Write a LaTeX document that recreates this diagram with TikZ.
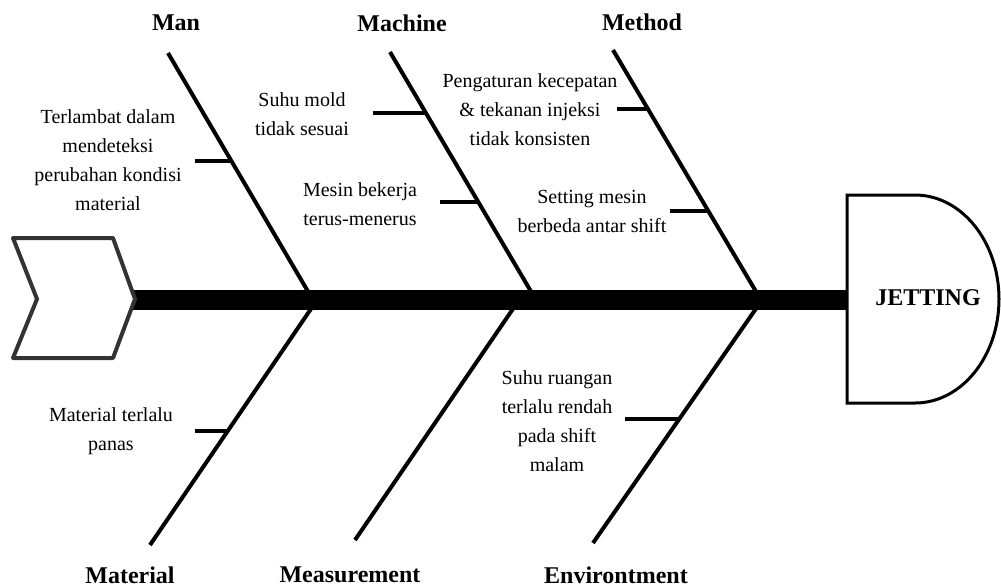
\documentclass[tikz,border=0pt]{standalone}
\usepackage{fontspec}
\setmainfont{Liberation Serif}
\usepackage{tikz}
\usetikzlibrary{positioning}
\usepackage{xcolor}

\begin{document}
\begin{tikzpicture}[x=0.5pt, y=-0.5pt,
    bone/.style={black, line width=2pt},
    cause/.style={align=center, font=\fontsize{10}{14.5}\selectfont},
    category/.style={font=\bfseries\fontsize{12}{14}\selectfont}]
    \useasboundingbox (0,0) rectangle (1001,586);
    % spine and the two ends
    \coordinate (tail) at (132,300);
    \coordinate (head) at (848,300);
    \draw[black, line width=10pt] (tail)--(head);
    \filldraw[fill=white, draw=black!80, line width=2pt, line join=round]
        (13,238)--(113,238)--(135,299)--(113,358)--(13,358)--(37,299)--cycle;
    \filldraw[fill=white, draw=black, line width=1.5pt]
        (847,195)--(915,195) arc[start angle=-90, end angle=90, x radius=84, y radius=104]
        --(847,403)--cycle;
    \node[font=\bfseries\fontsize{12}{14}\selectfont] (problem) at (928,298) {JETTING};
    % categories
    \node[category] (man) at (176,23) {Man};
    \node[category] (machine) at (402,23) {Machine};
    \node[category] (method) at (642,22) {Method};
    \node[category] (material) at (130,575) {Material};
    \node[category] (measurement) at (350,575) {Measurement};
    \node[category] (environment) at (616,575) {Environtment};
    % bones
    \coordinate (manT) at (168,53);     \coordinate (manS) at (313,300);
    \coordinate (machT) at (390,52);    \coordinate (machS) at (536,300);
    \coordinate (methT) at (613,50);    \coordinate (methS) at (761,300);
    \coordinate (matB) at (150,545);    \coordinate (matS) at (317,300);
    \coordinate (measB) at (355,540);   \coordinate (measS) at (519,300);
    \coordinate (envB) at (593,543);    \coordinate (envS) at (762,300);
    \draw[bone] (manT)--(manS);
    \draw[bone] (machT)--(machS);
    \draw[bone] (methT)--(methS);
    \draw[bone] (matB)--(matS);
    \draw[bone] (measB)--(measS);
    \draw[bone] (envB)--(envS);
    % causes
    \node[cause] (c1) at (108,160) {Terlambat dalam\\mendeteksi\\perubahan kondisi\\material};
    \node[cause] (c2) at (302,114) {Suhu mold\\tidak sesuai};
    \node[cause] (c3) at (360,204) {Mesin bekerja\\terus-menerus};
    \node[cause] (c4) at (530,110) {Pengaturan kecepatan\\\& tekanan injeksi\\tidak konsisten};
    \node[cause] (c5) at (592,211) {Setting mesin\\berbeda antar shift};
    \node[cause] (c6) at (111,431) {Material terlalu\\panas};
    \node[cause] (c7) at (557,421) {Suhu ruangan\\terlalu rendah\\pada shift\\malam};
    \coordinate (s1) at (195,161);  \coordinate (e1) at (231,161);
    \coordinate (s2) at (373,113);  \coordinate (e2) at (426,113);
    \coordinate (s3) at (440,202);  \coordinate (e3) at (478,202);
    \coordinate (s4) at (617,109);  \coordinate (e4) at (648,109);
    \coordinate (s5) at (670,211);  \coordinate (e5) at (708,211);
    \coordinate (s6) at (195,431);  \coordinate (e6) at (228,431);
    \coordinate (s7) at (625,419);  \coordinate (e7) at (679,419);
    \foreach \i in {1,...,7}
        \draw[bone] (s\i)--(e\i);
\end{tikzpicture}
\end{document}
